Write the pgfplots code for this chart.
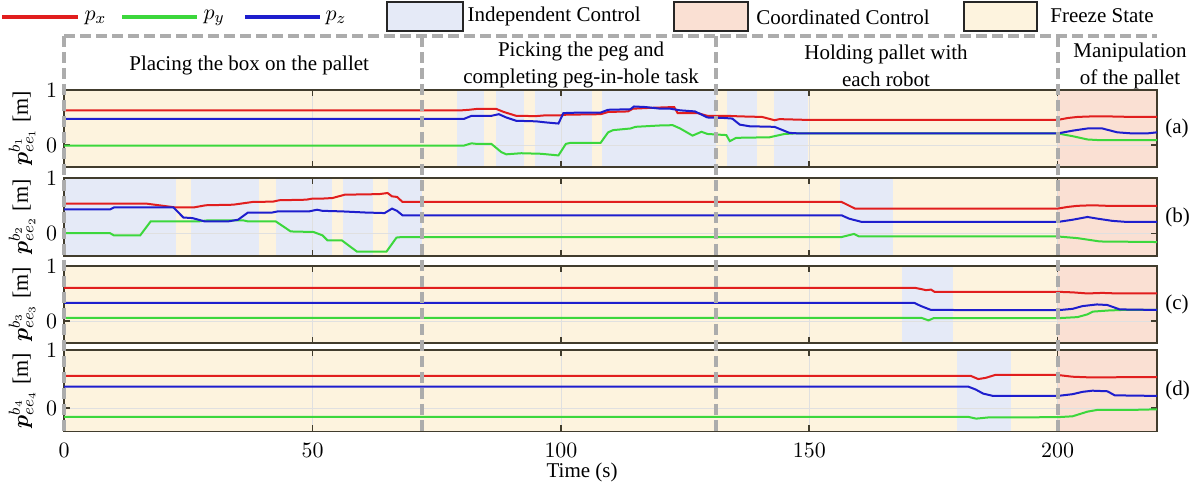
\documentclass[border=0pt]{standalone}
\usepackage{pgfplots}
\pgfplotsset{compat=1.18}
\usepackage{amsmath}
\usepackage{fontspec}
\setmainfont{Liberation Serif}
\definecolor{cred}{RGB}{225,30,30}
\definecolor{cgreen}{RGB}{60,215,60}
\definecolor{cblue}{RGB}{30,30,205}
\definecolor{freeze}{RGB}{253,243,222}
\definecolor{indep}{RGB}{229,234,247}
\definecolor{coord}{RGB}{250,224,211}
\definecolor{axcol}{RGB}{65,60,45}
\definecolor{dgray}{RGB}{172,172,172}
\newcommand\tf{\fontsize{10.5}{13.3}\selectfont}
\newcommand{\reg}[3]{\addplot[fill=#1, draw=none, forget plot, on layer=axis background] coordinates {(#2,-0.4) (#3,-0.4) (#3,1) (#2,1)} -- cycle;}
\pgfplotsset{panel/.style={
  width=546.5pt, scale only axis, anchor=north west,
  xmin=0, xmax=220, ymin=-0.4, ymax=1,
  xtick={0,50,100,150,200}, ytick={0,1},
  tick align=inside, major tick length=3pt,
  tick style={line width=0.8pt, draw=axcol},
  axis line style={line width=0.8pt, draw=axcol},
  grid=major, major grid style={black!12, line width=0.4pt},
  set layers=standard,
  axis background/.style={fill=freeze},
  ticklabel style={font=\fontsize{10.5}{12}\selectfont},
  xticklabel style={yshift=-2.5pt},
  ylabel style={at={(axis description cs:-0.0385,0.5)}, anchor=center, font=\fontsize{11}{13}\selectfont},
  every axis plot/.append style={line width=1pt},
}}
\begin{document}
\begin{tikzpicture}
\path (-32pt,0pt) rectangle (566pt,-237.5pt);
% legend
\draw[cred, line width=2.2pt] (-31pt,-8.5pt) -- (7pt,-8.5pt);
\node[anchor=west, inner sep=0pt, font=\fontsize{11}{13}\selectfont] at (10pt,-9pt) {$p_x$};
\draw[cgreen, line width=2.2pt] (29pt,-8.5pt) -- (66.5pt,-8.5pt);
\node[anchor=west, inner sep=0pt, font=\fontsize{11}{13}\selectfont] at (69.5pt,-9pt) {$p_y$};
\draw[cblue, line width=2.2pt] (90.5pt,-8.5pt) -- (128pt,-8.5pt);
\node[anchor=west, inner sep=0pt, font=\fontsize{11}{13}\selectfont] at (130.5pt,-9pt) {$p_z$};
\draw[fill=indep, draw=black!85, line width=0.7pt] (161.5pt,-1pt) rectangle (199.5pt,-15.5pt);
\node[anchor=west, inner sep=0pt, font=\tf] at (201.5pt,-8pt) {Independent Control};
\draw[fill=coord, draw=black!85, line width=0.7pt] (305pt,-1pt) rectangle (342pt,-15.5pt);
\node[anchor=west, inner sep=0pt, font=\tf] at (346pt,-8.5pt) {Coordinated Control};
\draw[fill=freeze, draw=black!85, line width=0.7pt] (450pt,-1pt) rectangle (486.5pt,-15.5pt);
\node[anchor=west, inner sep=0pt, font=\tf] at (493pt,-8pt) {Freeze State};
% phase titles
\node[align=center, font=\tf, inner sep=0pt] at (92.5pt,-32.5pt) {Placing the box on the pallet};
\node[align=center, font=\tf, inner sep=0pt] at (258.5pt,-32.5pt) {Picking the peg and\\completing peg-in-hole task};
\node[align=center, font=\tf, inner sep=0pt] at (411pt,-33pt) {Holding pallet with\\each robot};
\node[align=center, font=\tf, inner sep=0pt] at (533pt,-33pt) {Manipulation\\of the pallet};

% panel (a)
\begin{axis}[panel, name=pa, at={(0pt,-45pt)}, height=38.5pt, xticklabels={},
  ylabel={$\boldsymbol{p}^{b_1}_{ee_1}$ [m]}]
\reg{indep}{79}{84.6}
\reg{indep}{86.9}{92.6}
\reg{indep}{94.8}{106.2}
\reg{indep}{108.3}{131.2}
\reg{indep}{133.4}{139.5}
\reg{indep}{142.9}{149.8}
\reg{coord}{200}{220}
\addplot[cred] coordinates {(0,0.63)(80,0.63)(81.5,0.64)(83,0.655)(87,0.655)(88.5,0.6)(91,0.53)(95,0.525)(97,0.54)(100,0.54)(101,0.55)(108,0.56)(109.5,0.6)(113.5,0.61)(114.5,0.66)(118,0.675)(122.8,0.69)(123.5,0.58)(127.5,0.58)(129.5,0.53)(133.5,0.53)(136,0.52)(140.5,0.51)(143,0.45)(144,0.47)(148,0.46)(150,0.455)(200,0.455)(202,0.49)(204,0.51)(207,0.52)(210,0.52)(215,0.51)(220,0.51)};
\addplot[cgreen] coordinates {(0,-0.01)(80.5,-0.01)(82,0.03)(83,0.02)(86,0.02)(88,-0.13)(89,-0.17)(92,-0.15)(96,-0.16)(99.5,-0.19)(101,0.02)(102,0.04)(108,0.04)(109.5,0.23)(110.5,0.27)(114,0.3)(115,0.33)(120,0.355)(122.5,0.36)(124,0.3)(126.5,0.17)(128.3,0.24)(129.5,0.2)(133.3,0.18)(134,0.07)(135.3,0.13)(142,0.14)(145,0.2)(147,0.21)(200,0.21)(203,0.16)(206,0.10)(208,0.09)(220,0.09)};
\addplot[cblue] coordinates {(0,0.475)(80.5,0.475)(82,0.53)(86,0.53)(87.5,0.56)(89,0.5)(91,0.44)(95,0.43)(97,0.41)(99.5,0.39)(100.5,0.58)(104,0.59)(108,0.59)(109.5,0.64)(114,0.65)(114.7,0.70)(117,0.69)(120,0.66)(122,0.66)(124,0.63)(127,0.61)(129.5,0.5)(133,0.49)(134.5,0.48)(136,0.37)(138,0.34)(143,0.33)(146,0.22)(148,0.21)(200,0.21)(203,0.26)(206,0.30)(209,0.30)(212,0.23)(215,0.21)(218,0.21)(220,0.23)};
\end{axis}
\node[anchor=west, font=\tf, inner sep=0pt] at ([xshift=4pt]pa.east) {(a)};

% panel (b)
\begin{axis}[panel, name=pb, at={(0pt,-89pt)}, height=39pt, xticklabels={},
  ylabel={$\boldsymbol{p}^{b_2}_{ee_2}$ [m]}]
\reg{indep}{0}{22.6}
\reg{indep}{25.6}{39.2}
\reg{indep}{42.6}{54}
\reg{indep}{56.2}{62.2}
\reg{indep}{65.2}{72}
\reg{indep}{156.1}{166.8}
\reg{coord}{200}{220}
\addplot[cred] coordinates {(0,0.54)(16.5,0.54)(22.5,0.47)(26,0.47)(28.5,0.51)(34,0.52)(38,0.57)(42,0.575)(43.3,0.6)(48.7,0.61)(50,0.63)(52,0.63)(54,0.64)(56.5,0.70)(63.4,0.71)(65.1,0.73)(66,0.67)(67,0.66)(68.1,0.57)(156.5,0.57)(159.2,0.45)(200,0.45)(202,0.48)(204,0.50)(207,0.51)(210,0.5)(220,0.5)};
\addplot[cgreen] coordinates {(0,0.01)(9.2,0.01)(10,-0.03)(15.3,-0.03)(17.4,0.22)(27,0.22)(29,0.24)(36,0.24)(37,0.22)(42.6,0.22)(45.6,0.04)(50.2,0.03)(52,-0.03)(53,-0.12)(55.9,-0.12)(58.9,-0.32)(64.9,-0.32)(66.9,-0.07)(68,-0.06)(156.5,-0.06)(159,-0.005)(160,-0.05)(200,-0.05)(204,-0.08)(208.5,-0.14)(220,-0.15)};
\addplot[cblue] coordinates {(0,0.435)(9.2,0.435)(10,0.47)(22,0.47)(24,0.29)(25.8,0.28)(28.3,0.22)(33,0.22)(35,0.25)(37,0.38)(41.9,0.38)(43,0.40)(49.3,0.40)(50.9,0.43)(52,0.41)(55.9,0.40)(60.6,0.38)(64.5,0.37)(66,0.45)(67,0.41)(68.1,0.33)(156.5,0.33)(158,0.27)(160.6,0.21)(200,0.21)(203,0.25)(206,0.30)(208,0.27)(211,0.23)(214,0.21)(220,0.21)};
\end{axis}
\node[anchor=west, font=\tf, inner sep=0pt] at ([xshift=4pt]pb.east) {(b)};

% panel (c)
\begin{axis}[panel, name=pc, at={(0pt,-133pt)}, height=38.5pt, xticklabels={},
  ylabel={$\boldsymbol{p}^{b_3}_{ee_3}$ [m]}]
\reg{indep}{168.7}{178.9}
\reg{coord}{200}{220}
\addplot[cred] coordinates {(0,0.60)(171.4,0.60)(172.5,0.58)(173.5,0.56)(174.5,0.57)(175.2,0.53)(200,0.53)(203,0.52)(206,0.50)(209,0.51)(212,0.5)(220,0.5)};
\addplot[cgreen] coordinates {(0,0.055)(172.6,0.055)(174,0.01)(175,0.05)(200,0.05)(204,0.07)(206,0.12)(207.1,0.17)(210.2,0.19)(213,0.2)(220,0.2)};
\addplot[cblue] coordinates {(0,0.33)(171.1,0.33)(172.5,0.27)(174.5,0.2)(200,0.195)(203,0.22)(205,0.27)(207.9,0.30)(210,0.29)(212.5,0.21)(220,0.2)};
\end{axis}
\node[anchor=west, font=\tf, inner sep=0pt] at ([xshift=4pt]pc.east) {(c)};

% panel (d)
\begin{axis}[panel, name=pd, at={(0pt,-175pt)}, height=40.75pt,
  ylabel={$\boldsymbol{p}^{b_4}_{ee_4}$ [m]}]
\reg{indep}{179.8}{190.7}
\reg{coord}{200}{220}
\addplot[cred] coordinates {(0,0.555)(182.5,0.555)(184,0.50)(185.5,0.52)(187.4,0.57)(200,0.57)(203,0.54)(206,0.53)(210,0.53)(220,0.535)};
\addplot[cgreen] coordinates {(0,-0.15)(182,-0.15)(183.6,-0.18)(186,-0.16)(200,-0.155)(203,-0.14)(206,-0.06)(208,-0.03)(215,-0.03)(220,-0.02)};
\addplot[cblue] coordinates {(0,0.37)(182,0.37)(183.5,0.32)(185,0.25)(187,0.21)(200,0.21)(203,0.24)(205,0.28)(207,0.30)(210,0.29)(211.5,0.22)(220,0.21)};
\end{axis}
\node[anchor=west, font=\tf, inner sep=0pt] at ([xshift=4pt]pd.east) {(d)};
\node[font=\tf, inner sep=0pt] at (259pt,-236.5pt) {Time (s)};

% dashed frame
\begin{scope}[dgray, line width=2pt, dash pattern=on 5.5pt off 2.5pt]
\draw (0pt,-18pt) -- (546.5pt,-18pt);
\draw (0pt,-18pt) -- (0pt,-215.75pt);
\draw (178.85pt,-18pt) -- (178.85pt,-215.75pt);
\draw (326pt,-18pt) -- (326pt,-215.75pt);
\draw (496.8pt,-18pt) -- (496.8pt,-215.75pt);
\end{scope}
\end{tikzpicture}
\end{document}
